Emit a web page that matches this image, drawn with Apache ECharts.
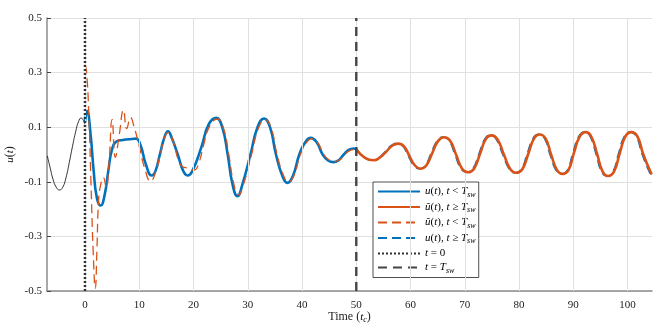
<!DOCTYPE html>
<html>
<head>
<meta charset="utf-8">
<script src="https://cdn.jsdelivr.net/npm/echarts@6/dist/echarts.min.js"></script>
<style>
  html, body { margin: 0; padding: 0; background: #fff; }
  #chart { width: 664px; height: 334px; }
</style>
</head>
<body>
<div id="chart"></div>
<script>
// values, [t, u]
const preHistory = [[-6.94, -0.005], [-6.4, -0.05], [-5.9, -0.09], [-5.3, -0.12], [-4.7, -0.13], [-4.1, -0.12],
  [-3.5, -0.085], [-2.9, -0.03], [-2.3, 0.03], [-1.7, 0.085], [-1.2, 0.12], [-0.7, 0.134], [-0.3, 0.125], [0, 0.11]];

const uBefore = [[0, 0.12], [0.4, 0.159], [1.0, 0.08], [1.6, -0.06], [2.2, -0.16], [2.9, -0.187], [3.6, -0.15],
  [4.3, -0.06], [5.0, 0.02], [5.9, 0.049], [7.0, 0.053], [8.2, 0.056], [9.4, 0.058], [10.3, 0.03], [11.2, -0.035],
  [12.3, -0.077], [13.0, -0.06], [13.8, 0.0], [14.6, 0.06], [15.3, 0.085], [16.0, 0.06], [17.1, 0.0], [18.1, -0.06],
  [18.9, -0.077], [19.8, -0.06], [21.5, 0.03], [22.8, 0.11], [24.2, 0.134], [25.3, 0.1], [26.3, 0.0], [27.2, -0.11],
  [28.1, -0.153], [29.0, -0.11], [30.5, 0.0], [31.8, 0.1], [33.0, 0.132], [34.1, 0.1], [35.2, 0.0], [36.4, -0.08],
  [37.3, -0.104], [38.3, -0.08], [39.5, 0.0], [40.6, 0.045], [41.6, 0.061], [42.7, 0.045], [43.8, 0.0],
  [44.8, -0.022], [45.8, -0.028], [46.8, -0.02], [47.7, 0.0], [48.6, 0.017], [49.5, 0.022], [50, 0.02]];

const uTildeBefore = [[0, 0.33], [0.3, 0.3], [0.7, 0.15], [1.1, -0.1], [1.5, -0.35], [1.9, -0.49], [2.2, -0.35],
  [2.5, -0.17], [2.9, -0.11], [3.4, -0.085], [3.9, -0.12], [4.4, -0.04], [5.0, 0.128], [5.6, -0.01], [6.3, 0.07],
  [7.1, 0.163], [7.7, 0.095], [8.4, 0.135], [9.0, 0.105], [10.0, 0.03], [11.0, -0.05], [12.1, -0.098], [13.0, -0.065],
  [14.0, 0.01], [14.6, 0.06], [15.4, 0.08], [16.3, 0.045], [17.2, -0.02], [18.0, -0.045], [19.0, -0.05],
  [20.1, -0.057], [21.0, -0.03], [21.8, 0.03], [23.0, 0.105], [24.4, 0.13], [25.5, 0.098], [26.5, 0.0],
  [27.4, -0.105], [28.3, -0.148], [29.2, -0.11], [30.7, 0.0], [32.0, 0.098], [33.2, 0.128], [34.3, 0.098],
  [35.4, 0.0], [36.6, -0.078], [37.5, -0.1], [38.5, -0.078], [39.7, 0.0], [40.8, 0.043], [41.8, 0.058],
  [42.9, 0.043], [44.0, 0.0], [45.0, -0.02], [46.0, -0.026], [47.0, -0.018], [47.9, 0.0], [48.8, 0.014],
  [49.7, 0.018], [50, 0.017]];

const uTildeAfter = [[50, 0.018], [51.6, -0.012], [53.2, -0.021], [54.3, -0.012], [55.5, 0.01], [56.6, 0.032],
  [57.7, 0.04], [58.8, 0.03], [59.8, -0.006], [60.8, -0.04], [61.8, -0.052], [62.9, -0.04], [64.0, 0.005],
  [65.1, 0.05], [66.2, 0.063], [67.3, 0.05], [68.4, -0.001], [69.5, -0.052], [70.6, -0.065], [71.7, -0.052],
  [72.8, 0.002], [73.9, 0.057], [74.9, 0.07], [76.0, 0.056], [77.2, 0.0], [78.4, -0.054], [79.5, -0.067],
  [80.6, -0.054], [81.7, 0.003], [82.8, 0.06], [83.8, 0.073], [84.9, 0.058], [85.9, 0.0], [87.0, -0.057],
  [88.0, -0.071], [89.1, -0.057], [90.1, 0.005], [91.2, 0.066], [92.3, 0.082], [93.3, 0.066], [94.4, 0.001],
  [95.4, -0.063], [96.4, -0.079], [97.5, -0.063], [98.5, 0.001], [99.6, 0.066], [100.7, 0.082], [101.8, 0.066],
  [102.9, 0.0], [104.3, -0.067], [104.5, -0.072]];

const uAfter = [[50, 0.022], [51.4, -0.01], [53.0, -0.021], [54.1, -0.012], [55.3, 0.01], [56.4, 0.032],
  [57.5, 0.041], [58.6, 0.03], [59.6, -0.006], [60.6, -0.04], [61.6, -0.052], [62.7, -0.04], [63.8, 0.005],
  [64.9, 0.05], [66.0, 0.064], [67.1, 0.05], [68.2, -0.001], [69.3, -0.052], [70.4, -0.065], [71.5, -0.052],
  [72.6, 0.002], [73.7, 0.057], [74.7, 0.071], [75.8, 0.056], [77.0, 0.0], [78.2, -0.054], [79.3, -0.067],
  [80.4, -0.054], [81.5, 0.003], [82.6, 0.06], [83.6, 0.074], [84.7, 0.058], [85.7, 0.0], [86.8, -0.057],
  [87.8, -0.071], [88.9, -0.057], [89.9, 0.005], [91.0, 0.066], [92.1, 0.083], [93.1, 0.066], [94.2, 0.001],
  [95.2, -0.063], [96.2, -0.079], [97.3, -0.063], [98.3, 0.001], [99.4, 0.066], [100.5, 0.083], [101.6, 0.066],
  [102.7, 0.0], [104.1, -0.067], [104.5, -0.075]];

const tStart = [[0, -0.5], [0, 0.5]];
const tSwitch = [[50, -0.5], [50, 0.5]];

const xTicks = [0, 10, 20, 30, 40, 50, 60, 70, 80, 90, 100];

const legendNames = ['uLt', 'utGe', 'utLt', 'uGe', 't0', 'tsw'];
const legendLabels = {
  uLt: '{i|u}({i|t}), {i|t} < {i|T}{s|sw}',
  utGe: '{i|ũ}({i|t}), {i|t} ≥ {i|T}{s|sw}',
  utLt: '{i|ũ}({i|t}), {i|t} < {i|T}{s|sw}',
  uGe: '{i|u}({i|t}), {i|t} ≥ {i|T}{s|sw}',
  t0: '{i|t} = 0',
  tsw: '{i|t} = {i|T}{s|sw}'
};

const FONT = 'Liberation Serif';
const BLUE = '#0072BD';
const ORANGE = '#D95319';
const rich = {
  i: { fontFamily: FONT, fontStyle: 'italic', fontSize: 11, color: '#000' },
  s: { fontFamily: FONT, fontStyle: 'italic', fontSize: 8, color: '#000', padding: [6, 0, 0, 0] }
};

const chart = echarts.init(document.getElementById('chart'));

const line = (name, data, color, width, type, z) => ({
  name: name,
  type: 'line',
  data: data,
  smooth: true,
  symbol: 'none',
  z: z,
  lineStyle: { color: color, width: width, type: type },
  itemStyle: { color: color },
  emphasis: { disabled: true }
});

const gridLine = { show: true, lineStyle: { color: '#e0e0e0', width: 1 } };

const option = {
  animation: false,
  backgroundColor: '#fff',
  textStyle: { fontFamily: FONT },
  grid: { left: 47, right: 12, top: 18, bottom: 43, outerBoundsMode: 'none', containLabel: false },
  xAxis: {
    type: 'value',
    min: -7,
    max: 104.5,
    name: 'Time ({i|t}{s|c})',
    nameLocation: 'middle',
    nameGap: 19,
    nameMoveOverlap: false,
    nameTextStyle: { fontFamily: FONT, fontSize: 12, color: '#222', rich: rich },
    axisLine: { onZero: false, lineStyle: { color: '#8c8c8c', width: 1.5 } },
    axisTick: { inside: true, length: 4, customValues: xTicks, lineStyle: { color: '#444' } },
    axisLabel: { fontFamily: FONT, fontSize: 11, color: '#222', margin: 9, customValues: xTicks },
    splitLine: { show: false }
  },
  yAxis: {
    type: 'value',
    min: -0.5,
    max: 0.5,
    interval: 0.2,
    name: '{i|u}({i|t})',
    nameLocation: 'middle',
    nameGap: 31,
    nameMoveOverlap: false,
    nameTextStyle: { fontFamily: FONT, fontSize: 12, color: '#222', rich: rich },
    axisLine: { show: true, onZero: false, lineStyle: { color: '#8c8c8c', width: 1.5 } },
    axisTick: { show: true, inside: true, length: 4, lineStyle: { color: '#444' } },
    axisLabel: { fontFamily: FONT, fontSize: 11, color: '#222', margin: 5,
      formatter: v => v.toFixed(1) },
    splitLine: gridLine
  },
  legend: {
    orient: 'vertical',
    left: 373,
    top: 182,
    data: legendNames,
    backgroundColor: '#fff',
    borderColor: '#222',
    borderWidth: 0.8,
    borderRadius: 0,
    padding: [4, 3, 3, 4],
    itemWidth: 42,
    itemHeight: 12,
    itemGap: 3,
    selectedMode: false,
    itemStyle: { opacity: 0 },
    textStyle: { fontFamily: FONT, fontSize: 11, color: '#000', rich: rich },
    formatter: name => legendLabels[name]
  },
  series: [
    line('pre', preHistory, '#000', 0.8, 'solid', 2),
    line('uLt', uBefore, BLUE, 2.6, 'solid', 3),
    line('utLt', uTildeBefore, ORANGE, 1.3, [9, 5], 4),
    line('uGe', uAfter, BLUE, 1.6, [9, 5], 5),
    line('utGe', uTildeAfter, ORANGE, 2.6, 'solid', 6),
    Object.assign(line('t0', tStart, '#333', 2.5, [2, 2], 7), { smooth: false }),
    Object.assign(line('tsw', tSwitch, '#444', 2.4, [9, 6], 7), { smooth: false }),
    // vertical grid lines at the x ticks
    {
      name: 'xgrid',
      type: 'line',
      data: [],
      silent: true,
      z: 0,
      markLine: {
        silent: true,
        symbol: 'none',
        label: { show: false },
        lineStyle: { color: '#e0e0e0', width: 1, type: 'solid' },
        data: xTicks.map(v => ({ xAxis: v }))
      }
    }
  ]
};

chart.setOption(option);
</script>
</body>
</html>
